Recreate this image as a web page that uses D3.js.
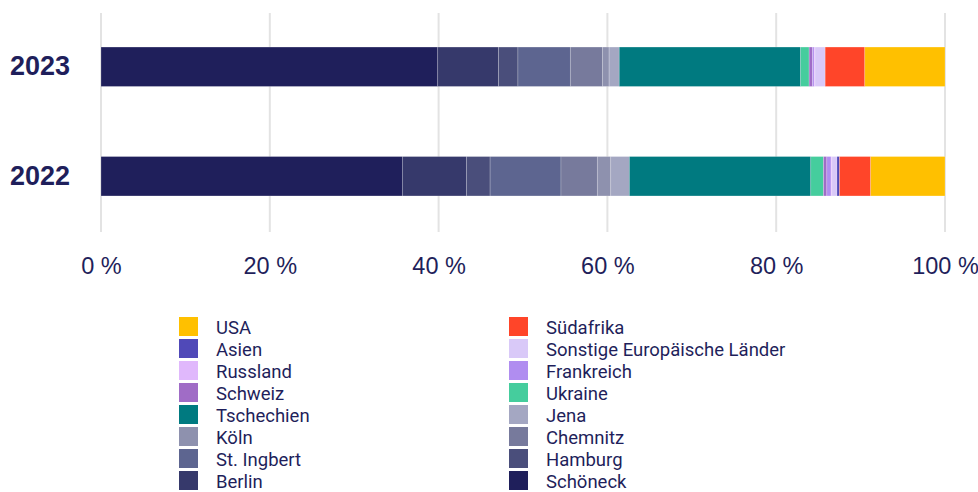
<!DOCTYPE html>
<html>
<head>
<meta charset="utf-8">
<script src="https://cdn.jsdelivr.net/npm/d3@7"></script>
<style>
  body { margin: 0; background: #fff; }
  svg { display: block; font-family: Roboto, "Noto Sans", sans-serif; }
</style>
</head>
<body>
<svg id="chart"></svg>
<script>
// Data (shares in %), stacking order from left to right
const years = ["2023", "2022"];
const seriesNames = ["Schöneck", "Berlin", "Hamburg", "St. Ingbert", "Chemnitz", "Köln", "Jena",
  "Tschechien", "Ukraine", "Schweiz", "Frankreich", "Russland", "Sonstige Europäische Länder",
  "Asien", "Südafrika", "USA"];
const values2023 = [39.9, 7.2, 2.3, 6.2, 3.8, 0.8, 1.2, 21.5, 1.0, 0.4, 0.2, 0.1, 1.2, 0.0, 4.7, 9.5];
const values2022 = [35.7, 7.6, 2.8, 8.4, 4.3, 1.6, 2.2, 21.5, 1.5, 0.4, 0.5, 0.1, 0.6, 0.3, 3.7, 8.8];
const seriesColors = ["#1f1f5b", "#36396b", "#4a4e7b", "#5d6590", "#777a9c", "#8e91ae", "#a4a7c2",
  "#007a80", "#45cd9d", "#a06cc6", "#b08df0", "#e0b8fc", "#d9c9f8", "#5049b8", "#ff4529", "#ffc000"];
const xTicks = [0, 20, 40, 60, 80, 100];

const textColor = "#1f1f5b";
const width = 978, height = 492;
const plotLeft = 101, plotRight = 945;

const svg = d3.select("#chart").attr("width", width).attr("height", height);

const rows = years.map((y, i) => {
  const vals = i === 0 ? values2023 : values2022;
  const row = { year: y };
  seriesNames.forEach((s, j) => row[s] = vals[j]);
  return row;
});

const stack = d3.stack().keys(seriesNames);
const stacked = stack(rows);

const xScale = d3.scaleLinear().domain([0, 100]).range([plotLeft, plotRight]);
const yScale = d3.scaleBand().domain(years).range([12, 231]).paddingInner(0.64).paddingOuter(0.32);
const color = d3.scaleOrdinal().domain(seriesNames).range(seriesColors);

// gridlines
svg.append("g")
  .selectAll("line")
  .data(xTicks)
  .join("line")
  .attr("x1", d => xScale(d)).attr("x2", d => xScale(d))
  .attr("y1", 13).attr("y2", 232)
  .attr("stroke", "#e3e3e3")
  .attr("stroke-width", 2);

// bars
svg.append("g")
  .selectAll("g")
  .data(stacked)
  .join("g")
  .attr("fill", d => color(d.key))
  .selectAll("rect")
  .data(d => d)
  .join("rect")
  .attr("x", d => xScale(d[0]))
  .attr("y", d => yScale(d.data.year))
  .attr("width", d => Math.max(0, xScale(d[1]) - xScale(d[0])))
  .attr("height", yScale.bandwidth())
  .attr("stroke", "rgba(255,255,255,0.35)")
  .attr("stroke-width", 0.6);

// x axis labels
const xAxis = svg.append("g")
  .attr("transform", "translate(0,274)")
  .call(d3.axisBottom(xScale).tickValues(xTicks).tickSize(0).tickPadding(0).tickFormat(d => d + " %"));
xAxis.select(".domain").remove();
xAxis.selectAll("text")
  .attr("y", 0)
  .attr("dy", null)
  .attr("fill", textColor)
  .style("font-size", "23.5px")
  .style("font-weight", "300");

// y labels
const yAxis = svg.append("g")
  .attr("transform", "translate(70,0)")
  .call(d3.axisLeft(yScale).tickSize(0).tickPadding(0));
yAxis.select(".domain").remove();
yAxis.selectAll("text")
  .attr("fill", textColor)
  .style("font-size", "27px")
  .style("font-weight", "700");

// legend: reversed order, two columns row by row
const legendItems = seriesNames.slice().reverse();
const legend = svg.append("g");
const item = legend.selectAll("g")
  .data(legendItems)
  .join("g")
  .attr("transform", (d, i) => `translate(${i % 2 === 0 ? 179 : 509},${317 + Math.floor(i / 2) * 22})`);
item.append("rect")
  .attr("width", 19).attr("height", 19)
  .attr("fill", d => color(d));
item.append("text")
  .attr("x", 37).attr("y", 11)
  .attr("dy", "0.35em")
  .attr("fill", textColor)
  .style("font-size", "18.5px")
  .text(d => d);
</script>
</body>
</html>
